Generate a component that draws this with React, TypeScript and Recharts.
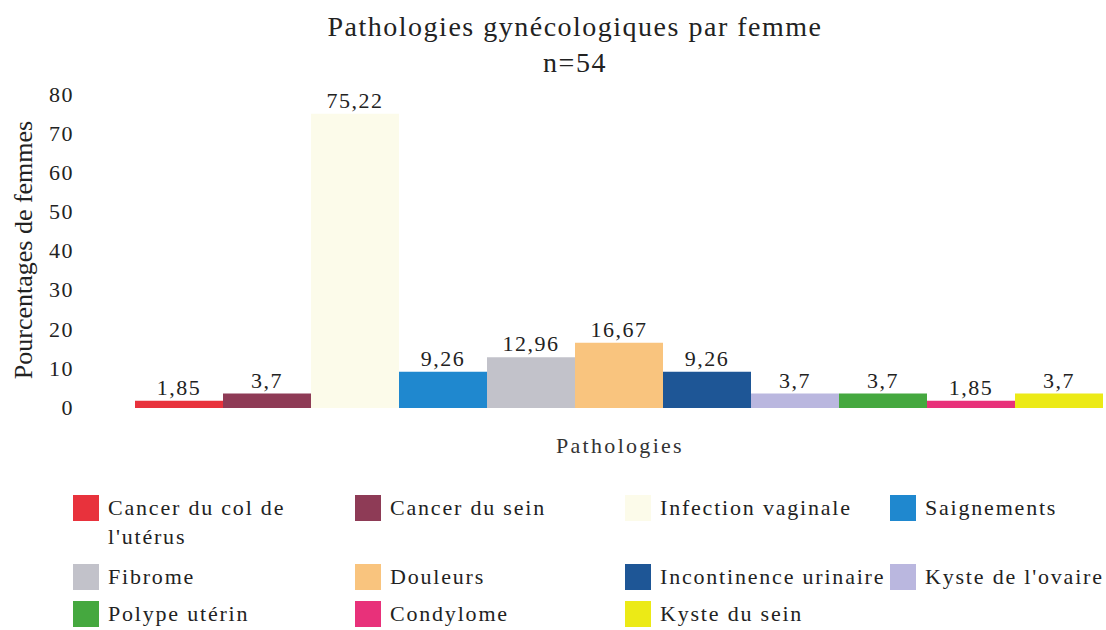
import { BarChart, Bar, XAxis, YAxis, LabelList } from "recharts";

const pathologies = [
  "Cancer du col de l'utérus",
  "Cancer du sein",
  "Infection vaginale",
  "Saignements",
  "Fibrome",
  "Douleurs",
  "Incontinence urinaire",
  "Kyste de l'ovaire",
  "Polype utérin",
  "Condylome",
  "Kyste du sein",
];
const percentages = [1.85, 3.7, 75.22, 9.26, 12.96, 16.67, 9.26, 3.7, 3.7, 1.85, 3.7];
const colors = [
  "#e8323c", "#8e3b56", "#fcfbea", "#1f88cf", "#c2c2ca", "#f9c47e",
  "#1e5696", "#bab7df", "#45a83f", "#e8317a", "#ecea16",
];
const yTicks = [0, 10, 20, 30, 40, 50, 60, 70, 80];

const row: Record<string, any> = { name: "Pathologies" };
pathologies.forEach((_, i) => (row["s" + i] = percentages[i]));
const data = [row];

const font = "'Liberation Serif', 'Times New Roman', serif";

// legend positions: 4 columns, 3 rows
const legendCols = [73, 355, 625, 890];
const legendRows = [508, 577, 614];

const fmt = (v: any) => String(v).replace(".", ",");

export default function App() {
  return (
    <div style={{ position: "absolute", left: 0, top: 0, width: 1106, height: 630, background: "#fff", fontFamily: font, color: "#222" }}>
      <div style={{ position: "absolute", top: 9, left: 0, width: 1150, textAlign: "center", fontSize: 28, lineHeight: "36px", letterSpacing: 1.5 }}>
        Pathologies gynécologiques par femme
        <br />
        n=54
      </div>
      <div
        style={{
          position: "absolute",
          left: 24,
          top: 250,
          transform: "translate(-50%, -50%) rotate(-90deg)",
          whiteSpace: "nowrap",
          fontSize: 26,
        }}
      >
        Pourcentages de femmes
      </div>
      <BarChart
        width={1106}
        height={480}
        data={data}
        margin={{ top: 95, right: 1, left: 0, bottom: 24 }}
        barCategoryGap={0}
        barGap={0}
        style={{ position: "absolute", left: 0, top: 0 }}
      >
        <XAxis
          dataKey="name"
          tick={false}
          axisLine={false}
          tickLine={false}
          height={48}
          label={{ value: "Pathologies", position: "insideBottom", offset: 3, fontSize: 22, fill: "#333", fontFamily: font, letterSpacing: 2.3 }}
        />
        <YAxis
          width={135}
          domain={[0, 80]}
          ticks={yTicks}
          axisLine={false}
          tickLine={false}
          tickMargin={55}
          tick={{ fontSize: 22, fill: "#222", fontFamily: font, letterSpacing: 1.5, dy: -1 }}
        />
        {pathologies.map((p, i) => (
          <Bar key={p} dataKey={"s" + i} name={p} fill={colors[i]} isAnimationActive={false}>
            <LabelList
              dataKey={"s" + i}
              position="top"
              formatter={fmt}
              offset={6}
              style={{ fontSize: 22, fill: "#222", fontFamily: font, letterSpacing: 1.5 }}
            />
          </Bar>
        ))}
      </BarChart>
      {pathologies.map((p, i) => {
        const col = i % 4;
        const r = Math.floor(i / 4);
        const x = legendCols[col];
        const y = legendRows[r];
        const label = i === 0 ? (
          <>
            Cancer du col de
            <br />
            l'utérus
          </>
        ) : (
          p
        );
        return (
          <div key={p} style={{ position: "absolute", left: x, top: y - 13 }}>
            <div style={{ position: "absolute", left: 0, top: 0, width: 26, height: 26, background: colors[i] }} />
            <div
              style={{
                position: "absolute",
                left: 35,
                top: -2,
                whiteSpace: "nowrap",
                fontSize: 22,
                lineHeight: "29px",
                letterSpacing: 1.8,
              }}
            >
              {label}
            </div>
          </div>
        );
      })}
    </div>
  );
}
